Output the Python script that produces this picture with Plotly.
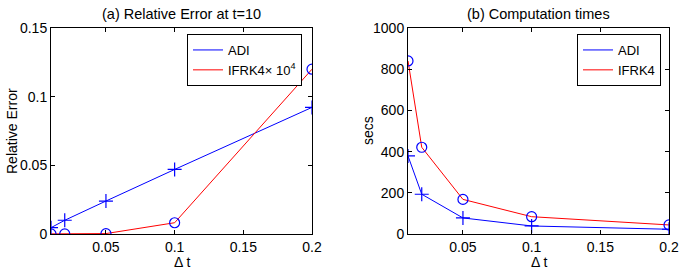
import plotly.graph_objects as go
from plotly.subplots import make_subplots

dt = [0.01, 0.02, 0.05, 0.1, 0.2]
err_adi = [0.0046, 0.0100, 0.0240, 0.0470, 0.0922]
err_ifrk4 = [0.0001, 0.0001, 0.0003, 0.0082, 0.1200]
time_adi = [379, 193, 78, 39, 23]
time_ifrk4 = [840, 421, 168, 84, 44]

xticks = [0.05, 0.1, 0.15, 0.2]
yticks_a = [0, 0.05, 0.1, 0.15]
yticks_b = [0, 200, 400, 600, 800, 1000]

BLUE = "#0000ff"
RED = "#ff0000"
FONT = "Liberation Sans, Arial, sans-serif"

fig = make_subplots(rows=1, cols=2)

# Left panel
fig.add_trace(go.Scatter(x=dt, y=err_adi, mode="lines", name="ADI",
                         line=dict(color=BLUE, width=1), legend="legend"), 1, 1)
fig.add_trace(go.Scatter(x=dt, y=err_ifrk4, mode="lines", name="IFRK4× 10<sup>4</sup>",
                         line=dict(color=RED, width=1), legend="legend"), 1, 1)
fig.add_trace(go.Scatter(x=dt, y=err_adi, mode="markers", showlegend=False,
                         marker=dict(symbol="cross-thin", size=10, line=dict(color=BLUE, width=1.2))), 1, 1)
fig.add_trace(go.Scatter(x=dt, y=err_ifrk4, mode="markers", showlegend=False,
                         marker=dict(symbol="circle-open", size=10, color=BLUE, line=dict(color=BLUE, width=1.2))), 1, 1)

# Right panel
fig.add_trace(go.Scatter(x=dt, y=time_adi, mode="lines", name="ADI",
                         line=dict(color=BLUE, width=1), legend="legend2"), 1, 2)
fig.add_trace(go.Scatter(x=dt, y=time_ifrk4, mode="lines", name="IFRK4",
                         line=dict(color=RED, width=1), legend="legend2"), 1, 2)
fig.add_trace(go.Scatter(x=dt, y=time_adi, mode="markers", showlegend=False,
                         marker=dict(symbol="cross-thin", size=10, line=dict(color=BLUE, width=1.2))), 1, 2)
fig.add_trace(go.Scatter(x=dt, y=time_ifrk4, mode="markers", showlegend=False,
                         marker=dict(symbol="circle-open", size=10, color=BLUE, line=dict(color=BLUE, width=1.2))), 1, 2)

axis_common = dict(showline=True, linecolor="black", linewidth=1, mirror="ticks",
                   ticks="inside", ticklen=4, tickcolor="black", showgrid=False,
                   zeroline=False, automargin=False,
                   tickfont=dict(family=FONT, size=14, color="black"))

fig.update_xaxes(range=[0.01, 0.2], tickvals=xticks, ticktext=["0.05", "0.1", "0.15", "0.2"],
                 **axis_common)
fig.update_yaxes(range=[0, 0.15], tickvals=yticks_a, ticktext=["0", "0.05", "0.1", "0.15"],
                 row=1, col=1, **axis_common)
fig.update_yaxes(range=[0, 1000], tickvals=yticks_b, ticktext=[str(v) for v in yticks_b],
                 row=1, col=2, **axis_common)

y0 = (273 - 234) / 273
y1 = (273 - 28) / 273
fig.update_layout(
    xaxis=dict(domain=[51 / 683, 312 / 683]),
    xaxis2=dict(domain=[408 / 683, 669 / 683]),
    yaxis=dict(domain=[y0, y1]),
    yaxis2=dict(domain=[y0, y1]),
)

legend_common = dict(bgcolor="white", bordercolor="black", borderwidth=1,
                     font=dict(family=FONT, size=13, color="black"),
                     xanchor="left", yanchor="top", tracegroupgap=0, itemwidth=30)
fig.update_layout(
    legend=dict(x=187 / 683, y=(273 - 34) / 273, **legend_common),
    legend2=dict(x=577 / 683, y=(273 - 34) / 273, **legend_common),
)

def A(text, xp, yp, size, angle=0):
    return dict(text=text, x=xp / 683, y=(273 - yp) / 273, xref="paper", yref="paper",
                xanchor="center", yanchor="middle", showarrow=False, textangle=angle,
                font=dict(family=FONT, size=size, color="black"))

ann = [
    A("(a) Relative Error at t=10", (51 + 312) / 2, 14, 14.5),
    A("(b) Computation times", (408 + 669) / 2, 14, 14.5),
    A("Δ t", (51 + 312) / 2, 262, 14),
    A("Δ t", (408 + 669) / 2, 262, 14),
    A("Relative Error", 12, 131, 14, -90),
    A("secs", 368, 131, 14, -90),
]

fig.update_layout(
    annotations=ann,
    width=683, height=273,
    margin=dict(l=0, r=0, t=0, b=0),
    paper_bgcolor="white", plot_bgcolor="white",
    font=dict(family=FONT, color="black"),
    hovermode=False,
)

fig.write_html("out.html", config={"displayModeBar": False},
               post_script="document.body.style.margin='0';document.body.style.overflow='hidden';")
